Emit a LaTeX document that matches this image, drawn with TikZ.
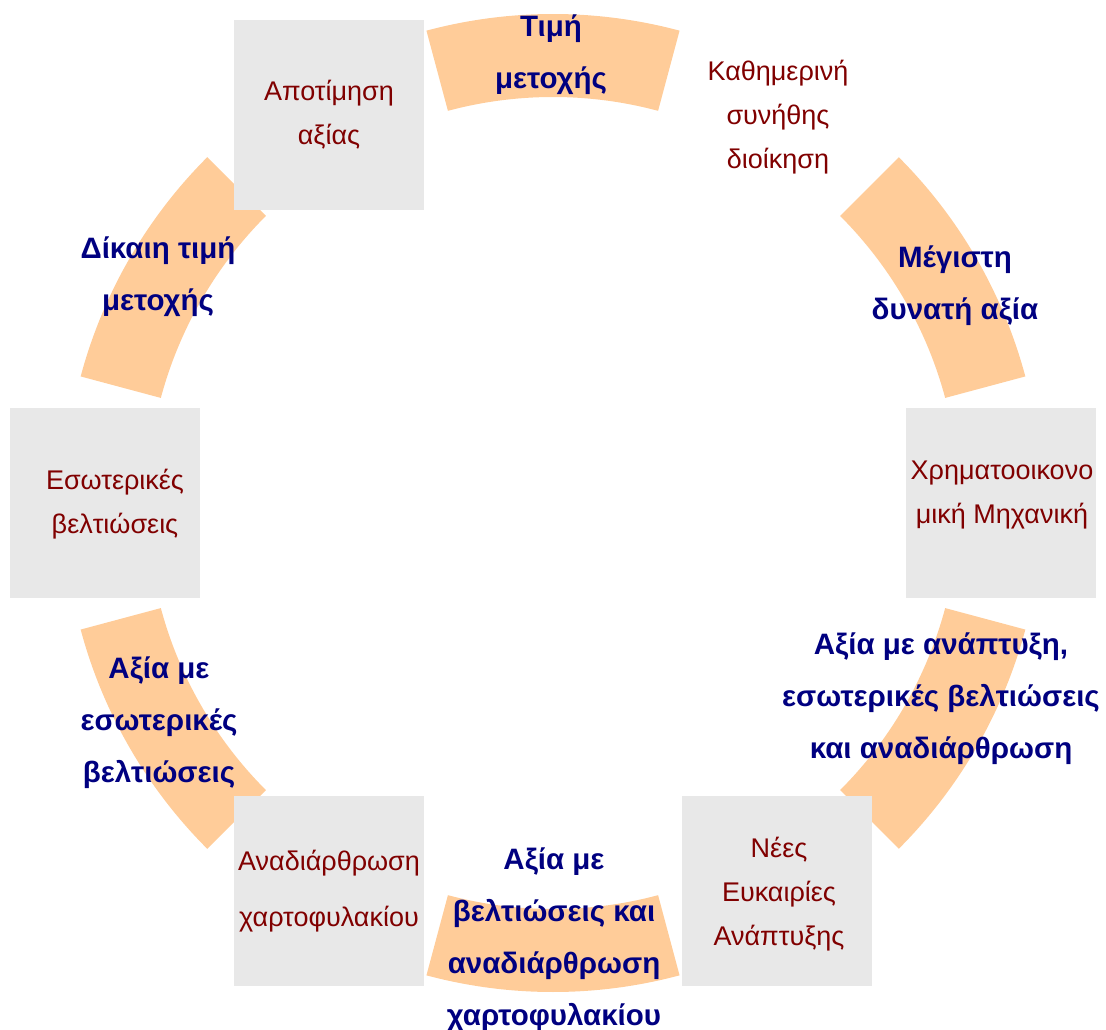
\documentclass[tikz,border=0pt]{standalone}
\usepackage{fontspec}
\setmainfont{Liberation Sans}
\usetikzlibrary{calc}
\definecolor{bandfill}{HTML}{FFCC99}
\definecolor{boxfill}{HTML}{E8E8E8}
\definecolor{boxtext}{HTML}{800000}
\definecolor{valuecol}{HTML}{000080}

\begin{document}
\begin{tikzpicture}[x=1pt,y=-1pt,
  band/.style={fill=bandfill},
  stagebox/.style={fill=boxfill, minimum size=190pt, inner sep=0pt},
  stagetext/.style={text=boxtext, align=center, inner sep=0pt,
    font=\fontsize{27}{44}\selectfont},
  valuetext/.style={text=valuecol, align=center, inner sep=0pt,
    font=\bfseries\fontsize{29.5}{52}\selectfont}]
\useasboundingbox (0,0) rectangle (1106,1030);
\coordinate (C) at (553,503);

% orange ring segments between the stages (y axis points down, so angles are negated)
\foreach \a in {90,30,-30,-90,-150,150} {
  \fill[band] ($(C)+(-\a-15:489)$)
    arc[start angle=-\a-15, end angle=-\a+15, radius=489]
    -- ($(C)+(-\a+15:406)$)
    arc[start angle=-\a+15, end angle=-\a-15, radius=406] -- cycle;
}

% grey stage boxes
\node[stagebox] (valuation)   at ($(C)+(-120:448)$) {};
\node[stagebox] (financial)   at ($(C)+(0:448)$)    {};
\node[stagebox] (growth)      at ($(C)+(60:448)$)   {};
\node[stagebox] (portfolio)   at ($(C)+(120:448)$)  {};
\node[stagebox] (internal)    at ($(C)+(180:448)$)  {};

% stage captions
\node[stagetext] (tvaluation) at (329,115) {Αποτίμηση\\αξίας};
\node[stagetext] (tdaily)     at (778,117) {Καθημερινή\\συνήθης\\διοίκηση};
\node[stagetext] (tfinancial) at (1002,495) {Χρηματοοικονο\\μική Μηχανική};
\node[stagetext] (tgrowth)    at (779,894) {Νέες\\Ευκαιρίες\\Ανάπτυξης};
\node[stagetext, font=\fontsize{27}{56}\selectfont] (tportfolio) at (329,891) {Αναδιάρθρωση\\χαρτοφυλακίου};
\node[stagetext] (tinternal)  at (115,504) {Εσωτερικές\\βελτιώσεις};

% value captions on the ring
\node[valuetext] (vprice)    at (551,55)  {Τιμή\\μετοχής};
\node[valuetext] (vmax)      at (955,286) {Μέγιστη\\δυνατή αξία};
\node[valuetext] (vall)      at (941,699) {Αξία με ανάπτυξη,\\εσωτερικές βελτιώσεις\\και αναδιάρθρωση};
\node[valuetext] (vrestruct) at (554,940) {Αξία με\\βελτιώσεις και\\αναδιάρθρωση\\χαρτοφυλακίου};
\node[valuetext] (vinternal) at (159,723) {Αξία με\\εσωτερικές\\βελτιώσεις};
\node[valuetext] (vfair)     at (158,277) {Δίκαιη τιμή\\μετοχής};
\end{tikzpicture}
\end{document}
